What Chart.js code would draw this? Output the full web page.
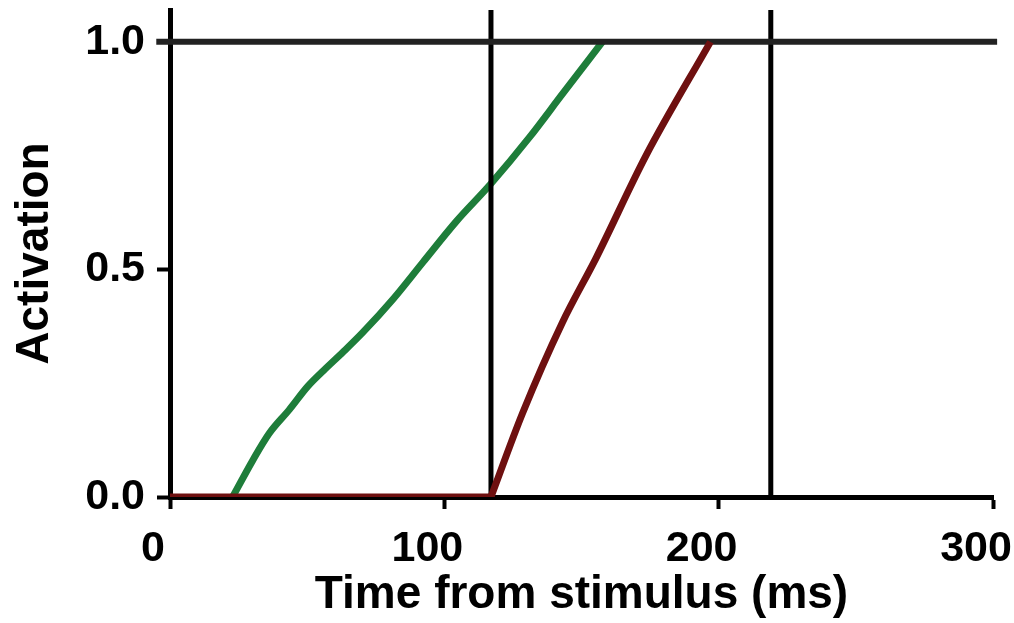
<!DOCTYPE html>
<html>
<head>
<meta charset="utf-8">
<script src="https://cdn.jsdelivr.net/npm/chart.js@4/dist/chart.umd.min.js"></script>
<style>
  html, body { margin: 0; padding: 0; background: #fff; }
  #wrap { width: 1014px; height: 623px; }
</style>
</head>
<body>
<div id="wrap"><canvas id="myChart" width="1014" height="623"></canvas></div>
<script>
// values
const xTicks = [0, 100, 200, 300]
const yTicks = [0, 0.5, 1.0]
const greenTimes = [22.8, 30.2, 36.2, 43.5, 50.2, 56, 63, 70.2, 81.2, 92.1, 104.3, 116.8, 131, 143, 157.6]
const greenValues = [0, 0.081, 0.14, 0.192, 0.243, 0.278, 0.318, 0.361, 0.434, 0.515, 0.605, 0.687, 0.79, 0.885, 1.0]
const redFlatTimes = [0, 117]
const redFlatValues = [0, 0]
const redRiseTimes = [117, 128.5, 143, 155.3, 173.5, 197]
const redRiseValues = [0, 0.184, 0.383, 0.525, 0.75, 1.0]
const markerTimes = [117, 219]
const threshold = 1.0
const yTop = 1.07

const toPoints = (xs, ys) => xs.map((x, i) => ({ x: x, y: ys[i] }))

const font = 'Liberation Sans, Arial, sans-serif'
const red = '#6e1010'

const datasets = [
  {
    data: toPoints(redFlatTimes, redFlatValues),
    borderColor: red,
    borderWidth: 7,
    pointRadius: 0,
    order: 1
  },
  {
    data: toPoints(redRiseTimes, redRiseValues),
    borderColor: red,
    borderWidth: 7,
    pointRadius: 0,
    cubicInterpolationMode: 'monotone',
    order: 1
  },
  {
    data: [{ x: -5, y: threshold }, { x: 301.5, y: threshold }],
    borderColor: '#222',
    borderWidth: 6,
    pointRadius: 0,
    clip: false,
    order: 2
  }
]
markerTimes.forEach(t => {
  datasets.push({
    data: [{ x: t, y: 0 }, { x: t, y: yTop }],
    borderColor: '#000',
    borderWidth: 5,
    pointRadius: 0,
    order: 3
  })
})
datasets.push({
  data: toPoints(greenTimes, greenValues),
  borderColor: '#1e7d3a',
  borderWidth: 7,
  pointRadius: 0,
  cubicInterpolationMode: 'monotone',
  order: 4
})

new Chart('myChart', {
  type: 'line',
  data: { datasets: datasets },
  options: {
    responsive: false,
    animation: false,
    layout: { padding: { top: 10, right: 21, left: 0, bottom: 0 } },
    plugins: { legend: { display: false }, tooltip: { enabled: false } },
    scales: {
      x: {
        type: 'linear',
        min: 0,
        max: 300,
        afterBuildTicks: s => { s.ticks = xTicks.map(v => ({ value: v })) },
        afterFit: s => { s.height = 126; s.paddingLeft = 0; s.paddingRight = 0 },
        grid: { drawOnChartArea: false, drawTicks: true, tickLength: 12, tickColor: '#000', tickWidth: 4 },
        border: { display: true, color: '#000', width: 5 },
        ticks: { color: '#000', padding: 14, labelOffset: -17, maxRotation: 0, font: { family: font, size: 43, weight: 'bold' } },
        title: {
          display: true,
          text: 'Time from stimulus (ms)',
          color: '#000',
          padding: { top: 0, bottom: 0 },
          font: { family: font, size: 46, weight: 'bold' }
        }
      },
      y: {
        type: 'linear',
        min: 0,
        max: yTop,
        afterBuildTicks: s => { s.ticks = yTicks.map(v => ({ value: v })) },
        afterFit: s => { s.width = 170; s.paddingTop = 0; s.paddingBottom = 0 },
        grid: { drawOnChartArea: false, drawTicks: true, tickLength: 13, tickColor: '#000', tickWidth: 4 },
        border: { display: true, color: '#000', width: 5 },
        ticks: {
          color: '#000',
          padding: 12,
          font: { family: font, size: 43, weight: 'bold' },
          callback: v => v.toFixed(1)
        },
        title: {
          display: true,
          text: 'Activation',
          color: '#000',
          padding: { top: 8, bottom: 0 },
          font: { family: font, size: 46, weight: 'bold' }
        }
      }
    }
  }
})
</script>
</body>
</html>
